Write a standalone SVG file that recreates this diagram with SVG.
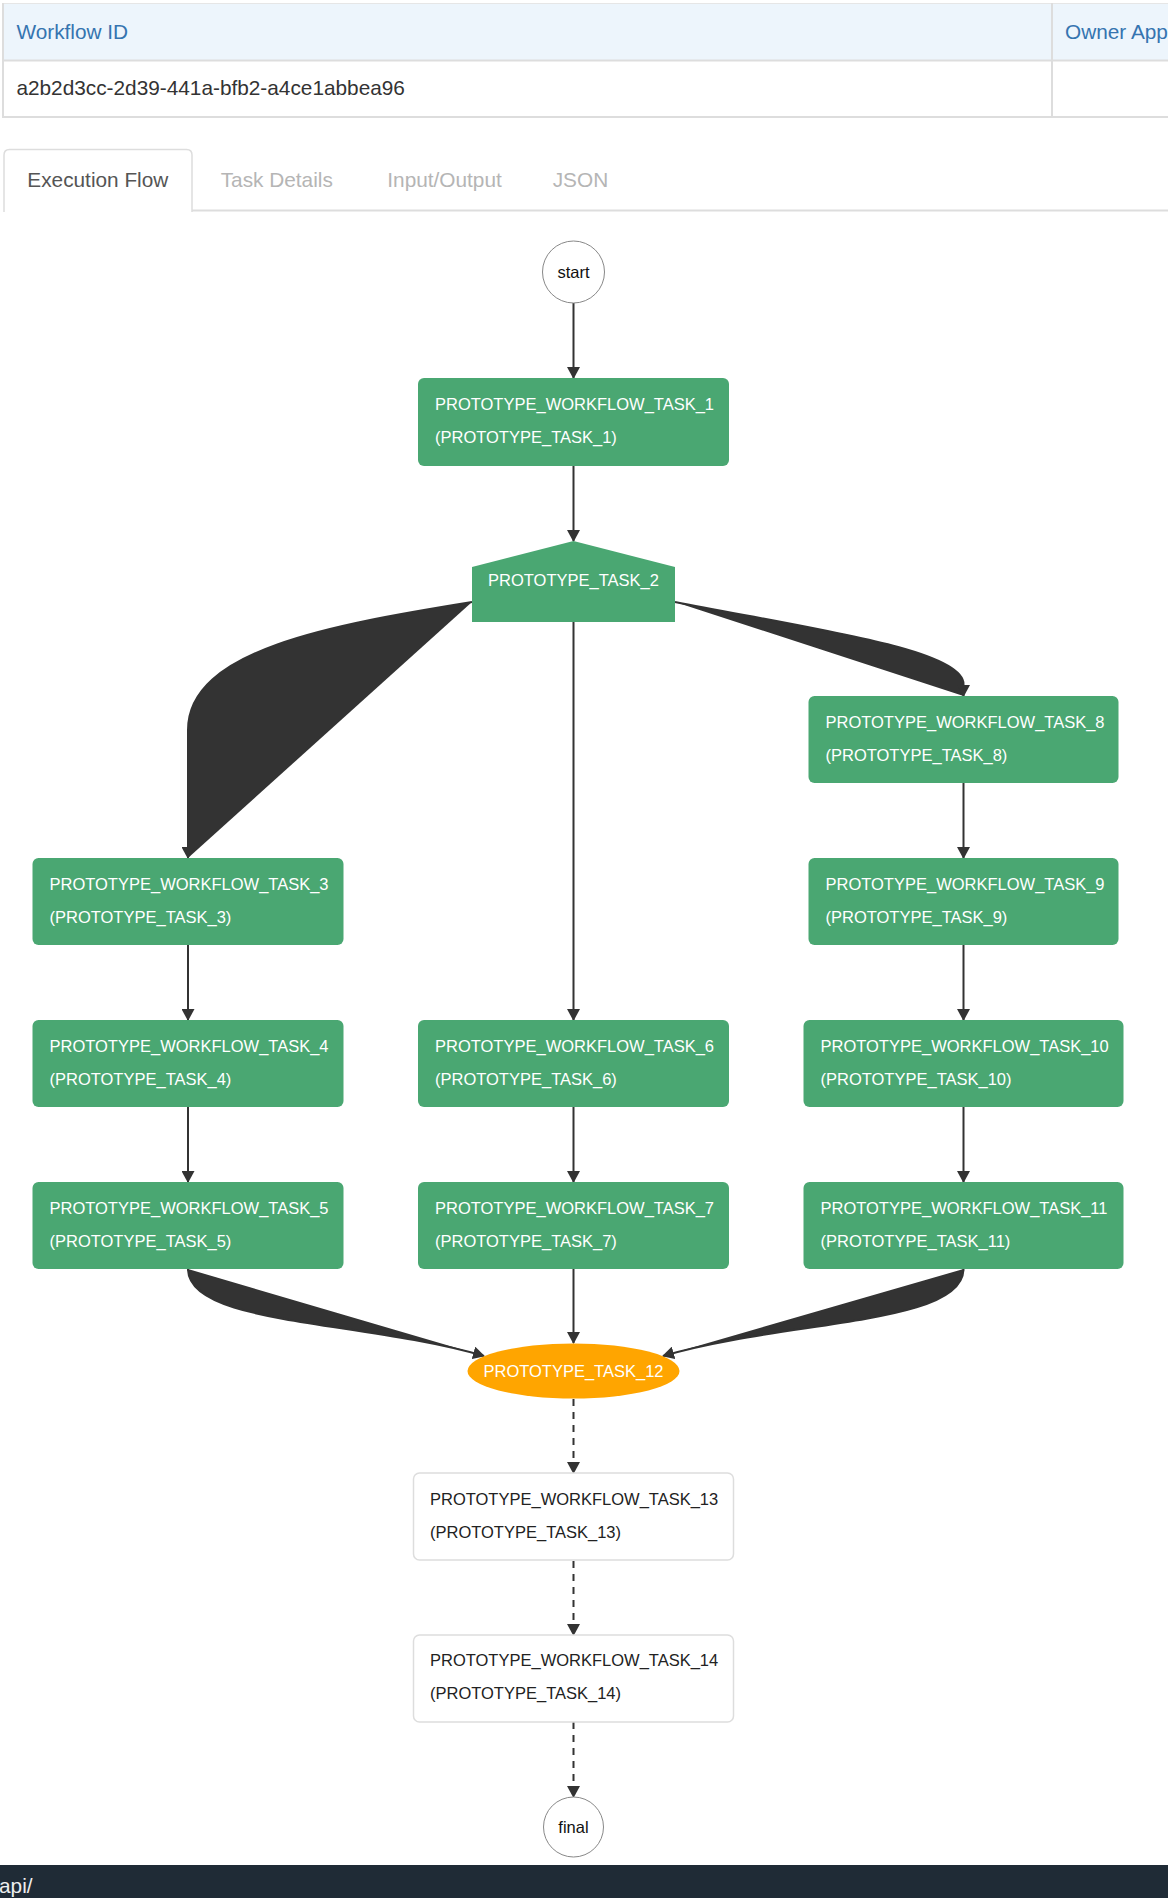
<svg xmlns="http://www.w3.org/2000/svg" width="1168" height="1898" viewBox="0 0 1168 1898">
<style>
text{font-family:"Liberation Sans",Arial,sans-serif}
.hdr{font-size:20.8px;fill:#3574b0}
.cell{font-size:20.8px;fill:#333}
.tab{font-size:20.8px;fill:#b5b5b5}
.tabact{font-size:20.8px;fill:#555}
.ln{stroke:#ddd;stroke-width:2;fill:none}
.task rect{fill:#4aa772}
.task text{font-size:16.5px;fill:#fff}
.plain rect{fill:#fff;stroke:#ddd;stroke-width:1.5}
.plain text{font-size:16.5px;fill:#222}
.term circle{fill:#fff;stroke:#888;stroke-width:1}
.term text{font-size:16.5px;fill:#111;text-anchor:middle}
.edge{stroke:#333;stroke-width:2;fill:none;marker-end:url(#arr)}
.fat{stroke:#333;stroke-width:2;fill:#333;marker-end:url(#arr)}
.dash{stroke:#333;stroke-width:2;fill:none;stroke-dasharray:7 6;marker-end:url(#arr)}
</style>
<defs>
<marker id="arr" markerUnits="userSpaceOnUse" markerWidth="13" markerHeight="13" refX="11" refY="6.5" orient="auto">
<path d="M0,0 L12,6.5 L0,13 z" fill="#333"/>
</marker>
</defs>
<rect width="1168" height="1898" fill="#fff"/>

<g id="table">
<rect x="3" y="3" width="1170" height="57" fill="#edf5fc"/>
<line x1="3" y1="3.5" x2="1168" y2="3.5" stroke="#e6e6e6" stroke-width="1"/>
<line class="ln" x1="3" y1="60.5" x2="1168" y2="60.5"/>
<line class="ln" x1="3" y1="117" x2="1168" y2="117"/>
<line class="ln" x1="3" y1="3" x2="3" y2="118"/>
<line class="ln" x1="1052" y1="3" x2="1052" y2="118"/>
<text class="hdr" x="16.4" y="38.5">Workflow ID</text>
<text class="hdr" x="1065" y="38.5">Owner App</text>
<text class="cell" x="16.4" y="95">a2b2d3cc-2d39-441a-bfb2-a4ce1abbea96</text>
</g>

<g id="tabs">
<line class="ln" x1="192" y1="210.5" x2="1168" y2="210.5"/>
<path d="M4,212 L4,155 Q4,149.5 9.5,149.5 L186.5,149.5 Q192,149.5 192,155 L192,212" fill="#fff" stroke="#ddd" stroke-width="1.5"/>
<text class="tabact" x="27.3" y="186.7">Execution Flow</text>
<text class="tab" x="220.7" y="186.7">Task Details</text>
<text class="tab" x="387.3" y="186.7">Input/Output</text>
<text class="tab" x="552.7" y="186.7">JSON</text>
</g>

<g id="connectors">
<path class="edge" d="M573.5,303 L573.5,378"/>
<path class="edge" d="M573.5,466 L573.5,541"/>
<path class="fat" d="M472,602 C330,625 188,650 188,730 L188,858"/>
<path class="edge" d="M573.5,622 L573.5,1020"/>
<path class="fat" d="M675,602 C820,630 963.5,650 963.5,684 L963.5,696"/>
<path class="edge" d="M963.5,783 L963.5,858"/>
<path class="edge" d="M963.5,945 L963.5,1020"/>
<path class="edge" d="M963.5,1107 L963.5,1182"/>
<path class="edge" d="M188,945 L188,1020"/>
<path class="edge" d="M188,1107 L188,1182"/>
<path class="edge" d="M573.5,1107 L573.5,1182"/>
<path class="edge" d="M573.5,1269 L573.5,1343"/>
<path class="fat" d="M188,1269 C188,1325 360,1320 484,1356"/>
<path class="fat" d="M963.5,1269 C963.5,1325 786,1320 663,1356"/>
<path class="dash" d="M573.5,1399 L573.5,1473"/>
<path class="dash" d="M573.5,1561 L573.5,1635"/>
<path class="dash" d="M573.5,1722 L573.5,1797"/>
</g>

<g id="start" class="term">
<circle cx="573.5" cy="272" r="31"/>
<text x="573.5" y="277.5">start</text>
</g>

<g id="task1" class="task">
<rect x="418" y="378" width="311" height="88" rx="6"/>
<text x="435" y="410">PROTOTYPE_WORKFLOW_TASK_1</text>
<text x="435" y="443">(PROTOTYPE_TASK_1)</text>
</g>

<g id="task2" class="task">
<polygon points="472,567 573.5,541 675,567 675,622 472,622" fill="#4aa772"/>
<text x="573.5" y="586" text-anchor="middle">PROTOTYPE_TASK_2</text>
</g>

<g id="task8" class="task">
<rect x="808.5" y="696" width="310" height="87" rx="6"/>
<text x="825.5" y="728">PROTOTYPE_WORKFLOW_TASK_8</text>
<text x="825.5" y="761">(PROTOTYPE_TASK_8)</text>
</g>

<g id="task3" class="task">
<rect x="32.5" y="858" width="311" height="87" rx="6"/>
<text x="49.5" y="890">PROTOTYPE_WORKFLOW_TASK_3</text>
<text x="49.5" y="923">(PROTOTYPE_TASK_3)</text>
</g>

<g id="task9" class="task">
<rect x="808.5" y="858" width="310" height="87" rx="6"/>
<text x="825.5" y="890">PROTOTYPE_WORKFLOW_TASK_9</text>
<text x="825.5" y="923">(PROTOTYPE_TASK_9)</text>
</g>

<g id="task4" class="task">
<rect x="32.5" y="1020" width="311" height="87" rx="6"/>
<text x="49.5" y="1052">PROTOTYPE_WORKFLOW_TASK_4</text>
<text x="49.5" y="1085">(PROTOTYPE_TASK_4)</text>
</g>

<g id="task6" class="task">
<rect x="418" y="1020" width="311" height="87" rx="6"/>
<text x="435" y="1052">PROTOTYPE_WORKFLOW_TASK_6</text>
<text x="435" y="1085">(PROTOTYPE_TASK_6)</text>
</g>

<g id="task10" class="task">
<rect x="803.5" y="1020" width="320" height="87" rx="6"/>
<text x="820.5" y="1052">PROTOTYPE_WORKFLOW_TASK_10</text>
<text x="820.5" y="1085">(PROTOTYPE_TASK_10)</text>
</g>

<g id="task5" class="task">
<rect x="32.5" y="1182" width="311" height="87" rx="6"/>
<text x="49.5" y="1214">PROTOTYPE_WORKFLOW_TASK_5</text>
<text x="49.5" y="1247">(PROTOTYPE_TASK_5)</text>
</g>

<g id="task7" class="task">
<rect x="418" y="1182" width="311" height="87" rx="6"/>
<text x="435" y="1214">PROTOTYPE_WORKFLOW_TASK_7</text>
<text x="435" y="1247">(PROTOTYPE_TASK_7)</text>
</g>

<g id="task11" class="task">
<rect x="803.5" y="1182" width="320" height="87" rx="6"/>
<text x="820.5" y="1214">PROTOTYPE_WORKFLOW_TASK_11</text>
<text x="820.5" y="1247">(PROTOTYPE_TASK_11)</text>
</g>

<g id="task12">
<ellipse cx="573.5" cy="1371" rx="106" ry="27.5" fill="#ffa500"/>
<text x="573.5" y="1377" text-anchor="middle" font-size="16.5" fill="#fff">PROTOTYPE_TASK_12</text>
</g>

<g id="task13" class="plain">
<rect x="413.5" y="1473" width="320" height="87" rx="6"/>
<text x="430" y="1505">PROTOTYPE_WORKFLOW_TASK_13</text>
<text x="430" y="1538">(PROTOTYPE_TASK_13)</text>
</g>

<g id="task14" class="plain">
<rect x="413.5" y="1635" width="320" height="87" rx="6"/>
<text x="430" y="1666">PROTOTYPE_WORKFLOW_TASK_14</text>
<text x="430" y="1699">(PROTOTYPE_TASK_14)</text>
</g>

<g id="final" class="term">
<circle cx="573.5" cy="1827" r="30"/>
<text x="573.5" y="1832.5">final</text>
</g>

<g id="footer">
<rect x="0" y="1865" width="1168" height="33" fill="#1f2b36"/>
<text x="-1" y="1893" font-size="20.8" fill="#eee">api/</text>
</g>
</svg>
